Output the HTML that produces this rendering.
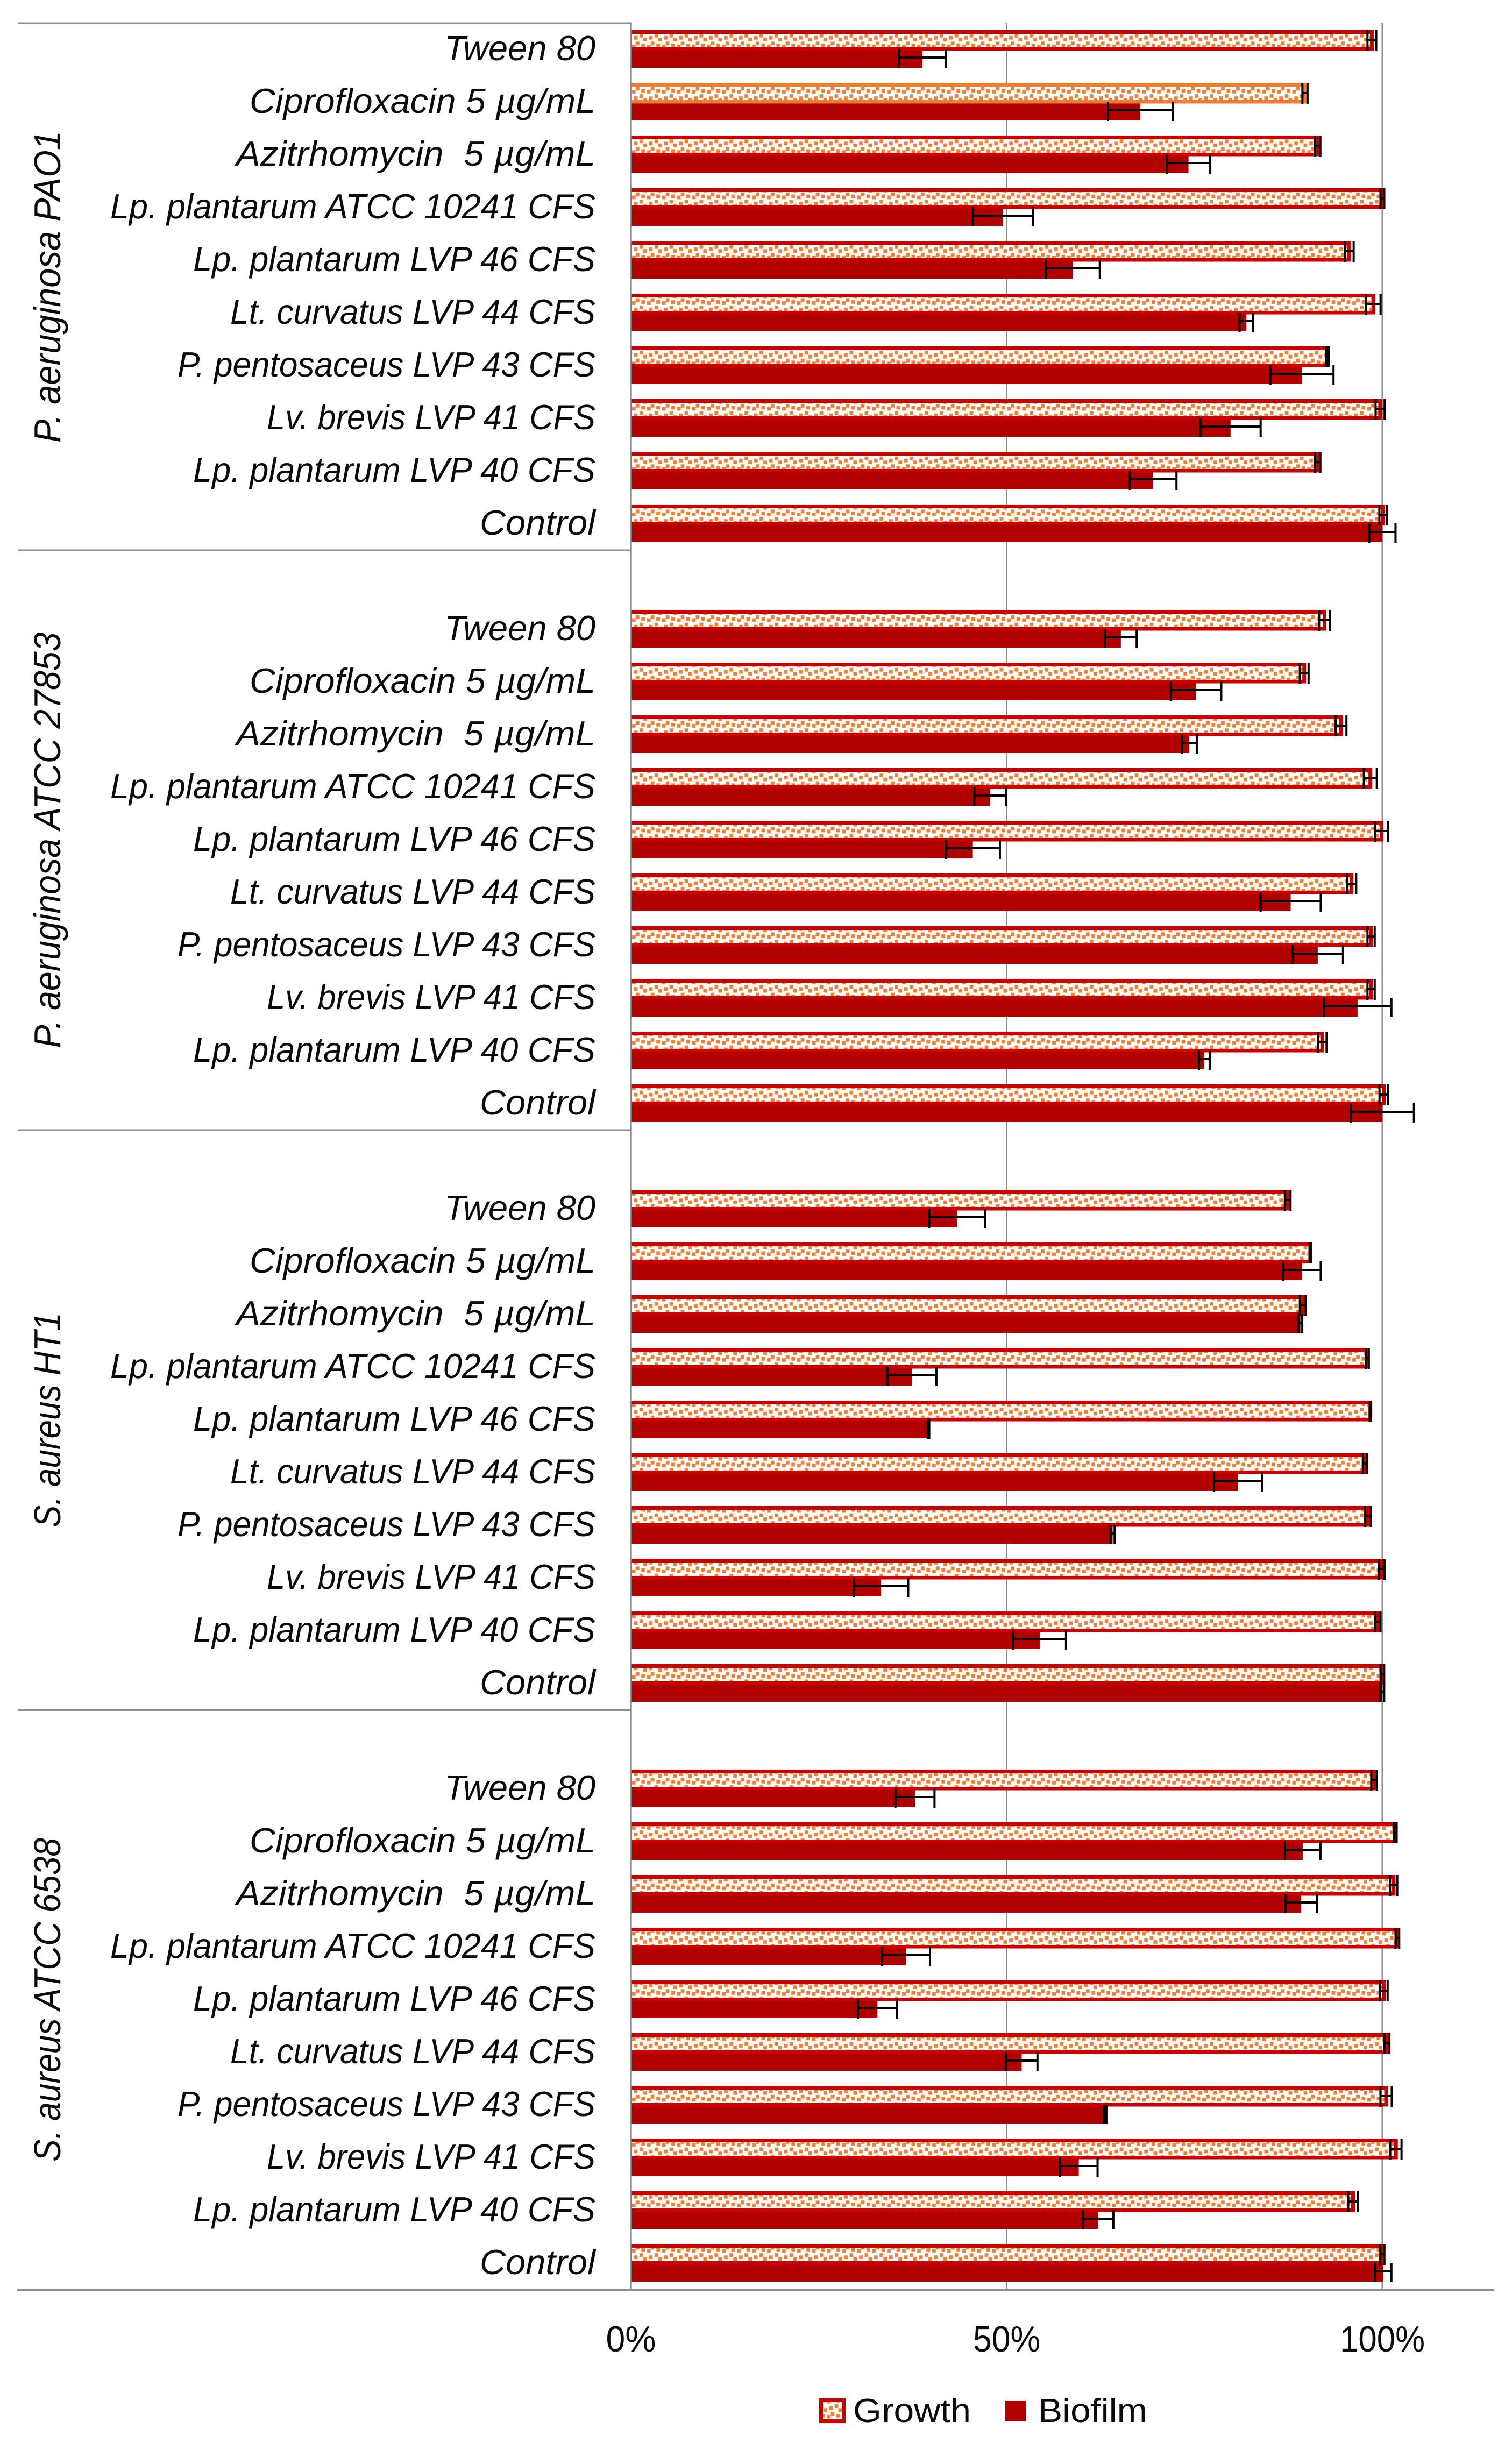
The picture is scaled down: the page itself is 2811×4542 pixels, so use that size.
<!DOCTYPE html>
<html lang="en">
<head>
<meta charset="utf-8">
<title>Growth and biofilm inhibition chart</title>
<style>
  html, body { margin: 0; padding: 0; background: #fff; }
  svg { display: block; }
  text { font-family: "Liberation Sans", sans-serif; fill: #0a0a0a; white-space: pre; }
  .cat { font-style: italic; font-size: 65px; }
  .grp { font-style: italic; font-size: 70px; }
  .tick { font-size: 68px; }
  .leg { font-size: 62px; }
</style>
</head>
<body>
<svg id="chart" xmlns="http://www.w3.org/2000/svg" width="2811" height="4542" viewBox="0 0 2811 4542">
  <defs>
    <pattern id="dots" patternUnits="userSpaceOnUse" x="1174.8" y="62.7" width="27.9" height="28.07">
      <rect x="14.1" y="0.2" width="6.8" height="6.8" fill="#f07f33"/>
      <rect x="3.8" y="4.2" width="6.8" height="6.8" fill="#f07f33"/>
      <rect x="21.1" y="7.6" width="6.8" height="6.8" fill="#f07f33"/>
      <rect x="7.1" y="14.6" width="6.8" height="6.8" fill="#f07f33"/>
      <rect x="17.5" y="18.2" width="6.8" height="6.8" fill="#f07f33"/>
      <rect x="0.1" y="20.2" width="6.8" height="6.8" fill="#f07f33"/>
    </pattern>
  </defs>
  <rect x="0" y="0" width="2811" height="4542" fill="#ffffff"/>
  <g id="grid"></g>
  <g id="bars"></g>
  <g id="errs"></g>
  <g id="axes"></g>
  <g id="cats"></g>
  <g id="grps"></g>
  <g id="ticks"></g>
  <g>
    <g>
      <rect x="1523" y="4459" width="49" height="46" fill="#c80000"/>
      <rect x="1530" y="4466" width="35" height="32" fill="#ffffff"/>
      <rect x="1530" y="4466" width="35" height="32" fill="url(#dots)"/>
      <text class="leg" x="1586" y="4503" textLength="219" lengthAdjust="spacingAndGlyphs">Growth</text>
    </g>
    <g>
      <rect x="1869" y="4463" width="39" height="39" fill="#b00000"/>
      <text class="leg" x="1930" y="4503" textLength="203" lengthAdjust="spacingAndGlyphs">Biofilm</text>
    </g>
  </g>
</svg>
<script>
// ---------- chart data (percent of control) ----------
const categories = ["Tween 80", "Ciprofloxacin 5 µg/mL", "Azitrhomycin  5 µg/mL", "Lp. plantarum ATCC 10241 CFS", "Lp. plantarum LVP 46 CFS", "Lt. curvatus LVP 44 CFS", "P. pentosaceus LVP 43 CFS", "Lv. brevis LVP 41 CFS", "Lp. plantarum LVP 40 CFS", "Control"];
const groups = ["P. aeruginosa PAO1", "P. aeruginosa ATCC 27853", "S. aureus HT1", "S. aureus ATCC 6538"];
const xTickValues = [0, 50, 100];
const xTickLabels = ["0%", "50%", "100%"];

const growthValues = [
  [98.6, 89.7, 91.4, 100.0, 95.6, 98.8, 92.7, 99.7, 91.4, 100.1],
  [92.3, 89.6, 94.5, 98.4, 99.9, 95.9, 98.5, 98.5, 92.0, 100.2],
  [87.4, 90.4, 89.4, 98.0, 98.4, 97.7, 98.1, 99.9, 99.4, 100.0],
  [98.9, 101.7, 101.5, 102.0, 100.2, 100.6, 100.5, 101.8, 96.1, 100.0]
];
const growthErrors = [
  [0.58, 0.34, 0.35, 0.25, 0.58, 0.96, 0.15, 0.6, 0.35, 0.5],
  [0.72, 0.58, 0.72, 0.86, 0.86, 0.62, 0.48, 0.48, 0.58, 0.58],
  [0.38, 0.07, 0.38, 0.2, 0.07, 0.3, 0.38, 0.38, 0.35, 0.24],
  [0.38, 0.2, 0.48, 0.24, 0.5, 0.34, 0.75, 0.75, 0.65, 0.27]
];
const biofilmValues = [
  [38.8, 67.8, 74.2, 49.5, 58.8, 81.9, 89.3, 79.8, 69.5, 100.0],
  [65.2, 75.2, 74.3, 47.8, 45.5, 87.8, 91.4, 96.7, 76.3, 100.0],
  [43.4, 89.3, 89.1, 37.4, 39.6, 80.8, 64.1, 33.3, 54.4, 100.0],
  [37.8, 89.4, 89.2, 36.6, 32.8, 52.0, 63.1, 59.6, 62.2, 100.1]
];
const biofilmErrors = [
  [3.1, 4.3, 2.9, 4.0, 3.6, 0.9, 4.2, 4.0, 3.1, 1.75],
  [2.1, 3.36, 1.0, 2.1, 3.6, 4.0, 3.36, 4.5, 0.72, 4.2],
  [3.7, 2.5, 0.24, 3.25, 0.1, 3.2, 0.27, 3.6, 3.5, 0.24],
  [2.6, 2.36, 2.1, 3.2, 2.6, 2.1, 0.17, 2.5, 2.0, 1.1]
];

// ---------- layout ----------
const NS = "http://www.w3.org/2000/svg";
const X0 = 1173, X100 = 2570, PLOT_TOP = 43, ROW = 98, PLOT_BOTTOM = 4257;
const RED = "#c80000", ORANGE = "#ee7d31", DARK = "#b00000", GRID = "#8f8f8f";
const labelWidths = [281, 643, 668, 902, 748, 679, 777, 611, 748, 215];
const groupLengths = [580, 773, 400, 602];
const tickWidths = [93, 125, 158];

function xScale(v) { return X0 + (X100 - X0) * v / 100; }
// Group 0 has 10 rows; each later group has one blank row then 10 rows.
function rowTop(g, c) { return PLOT_TOP + ROW * (g * 11 + c); }
function groupTop(g) { return g === 0 ? PLOT_TOP : PLOT_TOP + ROW * (10 + (g - 1) * 11); }
function groupBottom(g) { return PLOT_TOP + ROW * (10 + g * 11); }

function make(parent, tag, attrs, text) {
  const el = document.createElementNS(NS, tag);
  for (const k in attrs) el.setAttribute(k, attrs[k]);
  if (text !== undefined) el.textContent = text;
  document.getElementById(parent).appendChild(el);
  return el;
}

// gridlines
xTickValues.slice(1).forEach(function (v, i) {
  const line = make("grid", "rect", { x: xScale(v) - 1.5, y: PLOT_TOP, width: 3, height: PLOT_BOTTOM - PLOT_TOP, fill: GRID });
  
  
});

// bars, error bars and category labels
groups.forEach(function (groupName, g) {
  categories.forEach(function (cat, c) {
    const top = rowTop(g, c);
    const grow = growthValues[g][c], growE = growthErrors[g][c];
    const bio = biofilmValues[g][c], bioE = biofilmErrors[g][c];
    const outline = (g === 0 && c === 1) ? ORANGE : RED;

    const bioBar = make("bars", "rect", { x: X0, y: top + 45, width: xScale(bio) - X0, height: 38, fill: DARK });
    
    

    const growBar = make("bars", "rect", { x: X0, y: top + 13, width: xScale(grow) + 3.5 - X0, height: 38.5, fill: outline });
    
    

    const growInner = make("bars", "rect", { x: X0 + 2, y: top + 20, width: xScale(grow) - 3.5 - X0 - 2, height: 25, fill: "#ffffff" });
    
    

    const growDots = make("bars", "rect", { x: X0 + 2, y: top + 20, width: xScale(grow) - 3.5 - X0 - 2, height: 25, fill: "url(#dots)" });
    
    

    const growErr = make("errs", "path", {
      d: "M" + xScale(grow - growE) + " " + (top + 13) + "V" + (top + 52) +
         "M" + xScale(grow + growE) + " " + (top + 13) + "V" + (top + 52) +
         "M" + xScale(grow - growE) + " " + (top + 32) + "H" + xScale(grow + growE),
      stroke: "#000", "stroke-width": 4, fill: "none"
    });
    
    

    const bioErr = make("errs", "path", {
      d: "M" + xScale(bio - bioE) + " " + (top + 48) + "V" + (top + 84) +
         "M" + xScale(bio + bioE) + " " + (top + 48) + "V" + (top + 84) +
         "M" + xScale(bio - bioE) + " " + (top + 64) + "H" + xScale(bio + bioE),
      stroke: "#000", "stroke-width": 4, fill: "none"
    });
    
    

    const label = make("cats", "text", {
      "class": "cat",
      x: 1107 - labelWidths[c],
      y: top + 69,
      textLength: labelWidths[c],
      lengthAdjust: "spacingAndGlyphs"
    }, cat);
    
    
  });

  // group title
  const mid = (groupTop(g) + groupBottom(g)) / 2;
  const title = make("grps", "text", {
    "class": "grp",
    transform: "translate(112," + (mid + groupLengths[g] / 2) + ") rotate(-90)",
    x: 0, y: 0,
    textLength: groupLengths[g],
    lengthAdjust: "spacingAndGlyphs"
  }, groupName);
  
  

  // group separator on top of each group
  const sep = make("axes", "rect", { x: 33, y: groupTop(g) - 1.5, width: X0 - 33, height: 3.5, fill: GRID });
  
  
});

// category axis line and value axis baseline
const yAxis = make("axes", "rect", { x: X0 - 1.75, y: PLOT_TOP - 1.5, width: 3.5, height: PLOT_BOTTOM - PLOT_TOP + 1.5, fill: GRID });



const xAxis = make("axes", "rect", { x: 32, y: PLOT_BOTTOM - 2, width: 2746, height: 4, fill: GRID });



// tick labels
xTickLabels.forEach(function (t, i) {
  const tick = make("ticks", "text", {
    "class": "tick",
    x: xScale(xTickValues[i]) - tickWidths[i] / 2,
    y: 4372,
    textLength: tickWidths[i],
    lengthAdjust: "spacingAndGlyphs"
  }, t);
  
  
});
</script>
</body>
</html>
